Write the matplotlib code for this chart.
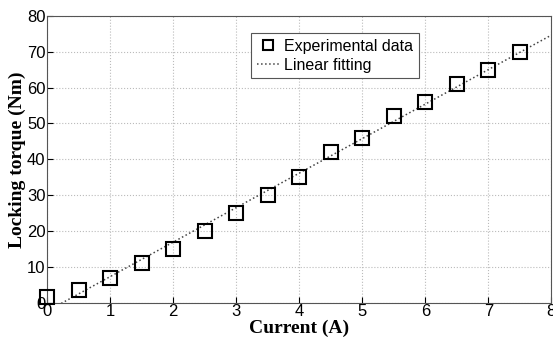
import numpy as np
import matplotlib
matplotlib.use("Agg")
import matplotlib.pyplot as plt

current = [0, 0.5, 1, 1.5, 2, 2.5, 3, 3.5, 4, 4.5, 5, 5.5, 6, 6.5, 7, 7.5]
torque = [1.5, 3.5, 7, 11, 15, 20, 25, 30, 35, 42, 46, 52, 56, 61, 65, 70]
x_ticks = [0, 1, 2, 3, 4, 5, 6, 7, 8]
y_ticks = [0, 10, 20, 30, 40, 50, 60, 70, 80]

slope, intercept = np.polyfit(current, torque, 1)
x_fit = np.linspace(0, 8, 200)
y_fit = slope * x_fit + intercept

plt.rcParams['font.family'] = ['Liberation Sans', 'DejaVu Sans']

fig = plt.figure(figsize=(5.53, 3.38), dpi=100)
ax = fig.add_axes([0.085, 0.104, 0.912, 0.849])

ax.plot(current, torque, 's', markersize=10, markerfacecolor='none',
        markeredgecolor='black', markeredgewidth=1.5, label='Experimental data',
        clip_on=False, zorder=3)
ax.plot(x_fit, y_fit, ':', color='#444444', linewidth=1.1, label='Linear fitting')

ax.set_xlim(0, 8)
ax.set_ylim(0, 80)
ax.set_xticks(x_ticks)
ax.set_yticks(y_ticks)
ax.tick_params(direction='in', labelsize=12, length=4, pad=1)
ax.grid(True, linestyle=':', color='#bbbbbb', linewidth=0.8)
for s in ax.spines.values():
    s.set_color('#555555')

ax.set_xlabel('Current (A)', family=['Liberation Serif'], fontweight='bold',
              fontsize=14, labelpad=0)
ax.set_ylabel('Locking torque (Nm)', family=['Liberation Serif'], fontweight='bold',
              fontsize=14, labelpad=1)

leg = ax.legend(loc='upper left', bbox_to_anchor=(0.405, 0.94), fontsize=11.5,
                fancybox=False, framealpha=1, edgecolor='#555555',
                handlelength=1.4, handletextpad=0.3, borderpad=0.35,
                labelspacing=0.25, markerscale=0.75, borderaxespad=0)
leg.get_frame().set_linewidth(0.8)

fig.savefig('out.png', dpi=100)
